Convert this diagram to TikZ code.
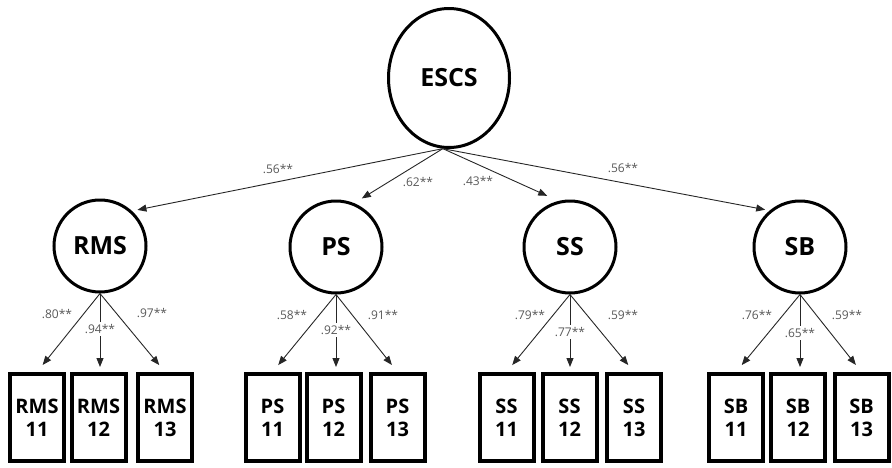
\documentclass[tikz,border=0pt]{standalone}
\usepackage{fontspec}
\setmainfont{Open Sans}
\usetikzlibrary{shapes.geometric,arrows.meta,calc}
\begin{document}
\begin{tikzpicture}[x=1pt,y=-1pt,
  latent/.style={circle,draw,line width=3pt,minimum size=92pt,inner sep=0pt,
    font=\bfseries\fontsize{25}{28}\selectfont},
  indicator/.style={rectangle,draw,line width=4pt,minimum width=54pt,minimum height=87pt,
    inner sep=0pt,align=center,font=\bfseries\fontsize{20}{23}\selectfont},
  effect/.style={draw=black!85,line width=0.9pt,-{Triangle[length=9pt,width=7pt]}},
  coef/.style={font=\fontsize{12}{14}\selectfont,text=black!65,inner sep=1pt},
  midcoef/.style={coef,fill=white,inner sep=2pt}
]
\useasboundingbox (0,0) rectangle (892,467);

% higher-order factor
\node[ellipse,draw,line width=3pt,minimum width=121pt,minimum height=139pt,inner sep=0pt,
  font=\bfseries\fontsize{25}{28}\selectfont] (ESCS) at (449,78) {ESCS};

% first-order factors
\node[latent] (RMS) at (100,246) {RMS};
\node[latent] (PS)  at (336,247) {PS};
\node[latent] (SS)  at (570,247) {SS};
\node[latent] (SB)  at (800,247) {SB};

% observed indicators
\foreach \f/\a/\b/\c in {RMS/37/98.5/165, PS/272.5/333.5/397.5, SS/506.5/569.5/634, SB/736/798/861.5}{
  \node[indicator] (\f11) at (\a,417.5) {\f\\11};
  \node[indicator] (\f12) at (\b,417.5) {\f\\12};
  \node[indicator] (\f13) at (\c,417.5) {\f\\13};
}

% structural paths
\draw[effect] (ESCS.-95) -- ($(RMS.center)+(44:52pt)$);
\draw[effect] (ESCS.-95) -- ($(PS.center)+(62:55pt)$);
\draw[effect] (ESCS.-95) -- ($(SS.center)+(114:56pt)$);
\draw[effect] (ESCS.-95) -- ($(SB.center)+(133:51pt)$);

\node[coef] (cRMS) at (278,169) {.56**};
\node[coef] (cPS)  at (418,182) {.62**};
\node[coef] (cSS)  at (478,181) {.43**};
\node[coef] (cSB)  at (623,168) {.56**};

% measurement paths
\foreach \f in {RMS,PS,SS,SB}{
  \draw[effect,shorten >=9pt] (\f.south) -- (\f11.north);
  \draw[effect,shorten >=9pt] (\f.south) -- (\f13.north);
}
\draw[effect,shorten >=5pt] (RMS.south) -- (RMS.south |- RMS12.north);
\draw[effect,shorten >=5pt] (PS.south) -- (PS.south |- PS12.north);
\draw[effect,shorten >=5pt] (SS.south) -- (SS.south |- SS12.north);
\draw[effect,shorten >=5pt] (SB.south) -- (SB.south |- SB12.north);

% loadings
\node[coef] (lRMS1) at (57,314) {.80**};
\node[midcoef] (lRMS2) at (100,329) {.94**};
\node[coef] (lRMS3) at (152,313) {.97**};
\node[coef] (lPS1) at (292,315) {.58**};
\node[midcoef] (lPS2) at (336,330) {.92**};
\node[coef] (lPS3) at (383,315) {.91**};
\node[coef] (lSS1) at (530,315) {.79**};
\node[midcoef] (lSS2) at (570,332) {.77**};
\node[coef] (lSS3) at (623,315) {.59**};
\node[coef] (lSB1) at (757,315) {.76**};
\node[midcoef] (lSB2) at (800,333) {.65**};
\node[coef] (lSB3) at (847,315) {.59**};
\end{tikzpicture}
\end{document}
